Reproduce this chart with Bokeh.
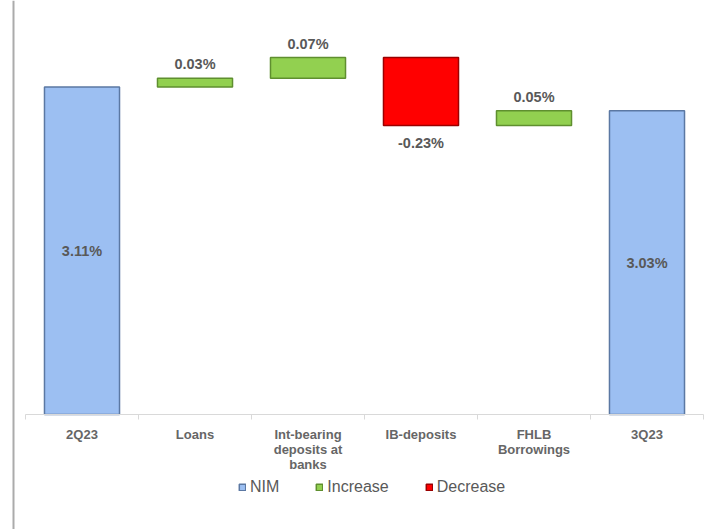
from bokeh.plotting import figure
from bokeh.models import Range1d, LinearAxis, FixedTicker, Span
from bokeh.core.properties import value
from bokeh.embed import file_html
from bokeh.resources import INLINE

# ---------------- data ----------------
categories = ["2Q23", "Loans", "Int-bearing\ndeposits at\nbanks", "IB-deposits",
              "FHLB\nBorrowings", "3Q23"]
values = [3.11, 0.03, 0.07, -0.23, 0.05, 3.03]
kinds = ["total", "change", "change", "change", "change", "total"]
axis_min = 2.0
legend_names = ["NIM", "Increase", "Decrease"]

# ---------------- waterfall geometry from data ----------------
n = len(categories)
bottoms, tops = [], []
running = None
for v, k in zip(values, kinds):
    if k == "total":
        bottoms.append(axis_min)
        tops.append(v)
        running = v
    else:
        start = running
        running = round(running + v, 4)
        bottoms.append(min(start, running))
        tops.append(max(start, running))

groups = {"NIM": [], "Increase": [], "Decrease": []}
for i, (v, k) in enumerate(zip(values, kinds)):
    if k == "total":
        groups["NIM"].append(i)
    elif v >= 0:
        groups["Increase"].append(i)
    else:
        groups["Decrease"].append(i)

# ---------------- layout ----------------
W, H = 706, 529
PX_CAT = 113.0      # pixels per category
LEFT_PX = 25.0      # left edge of first category
BASE_PX = 414.0     # pixel row of the axis baseline
PX_UNIT = 295.0     # pixels per 1 percentage point

x_start = -0.5 - LEFT_PX / PX_CAT
x_end = x_start + W / PX_CAT
y_start = axis_min - (H - BASE_PX) / PX_UNIT
y_end = axis_min + BASE_PX / PX_UNIT

p = figure(width=W, height=H, x_range=Range1d(x_start, x_end),
           y_range=Range1d(y_start, y_end), x_axis_location=None,
           y_axis_location=None, toolbar_location=None, tools="",
           output_backend="svg", min_border=0, outline_line_color=None)
p.grid.visible = False

FONT = value("Liberation Sans")
TXT = "#595959"

styles = {
    "NIM": dict(fill_color="#9CBFF2", line_color="#5B78A3"),
    "Increase": dict(fill_color="#92D050", line_color="#5F8F2F"),
    "Decrease": dict(fill_color="#FF0000", line_color="#9A0000"),
}
BAR_W = 0.664
for name in legend_names:
    idx = groups[name]
    p.vbar(x=idx, width=BAR_W, bottom=[bottoms[i] for i in idx],
           top=[tops[i] for i in idx], line_width=1.5,
           legend_label=name, **styles[name])

# data labels
def fmt(v):
    return f"{v:.2f}%"

idx = groups["NIM"]
p.text(x=idx, y=[(bottoms[i] + tops[i]) / 2 for i in idx],
       text=[fmt(values[i]) for i in idx], text_font=FONT,
       text_font_style="bold", text_font_size="14.5px", text_color=TXT,
       text_align="center", text_baseline="middle")
idx = groups["Increase"]
p.text(x=idx, y=[tops[i] for i in idx], text=[fmt(values[i]) for i in idx],
       text_font=FONT, text_font_style="bold", text_font_size="14.5px",
       text_color=TXT, text_align="center", text_baseline="bottom", y_offset=-6)
idx = groups["Decrease"]
p.text(x=idx, y=[bottoms[i] for i in idx], text=[fmt(values[i]) for i in idx],
       text_font=FONT, text_font_style="bold", text_font_size="14.5px",
       text_color=TXT, text_align="center", text_baseline="top", y_offset=10)

# category axis line and boundary ticks
p.segment(x0=[-0.5], x1=[n - 0.5], y0=[axis_min], y1=[axis_min],
          line_color="#d9d9d9", line_width=1)
bounds = [i - 0.5 for i in range(n + 1)]
p.segment(x0=bounds, x1=bounds, y0=[axis_min] * len(bounds),
          y1=[axis_min - 5 / PX_UNIT] * len(bounds),
          line_color="#d9d9d9", line_width=1)

xa = LinearAxis(fixed_location=axis_min, ticker=FixedTicker(ticks=list(range(n))),
                major_label_overrides={i: c for i, c in enumerate(categories)},
                axis_line_color=None, major_tick_line_color=None,
                minor_tick_line_color=None, major_label_standoff=6,
                major_label_text_font="Liberation Sans",
                major_label_text_font_style="bold",
                major_label_text_font_size="13px",
                major_label_text_line_height=1.0,
                major_label_text_color="#666666")
p.add_layout(xa, "below")

# left border line
p.add_layout(Span(location=x_start + 13 / PX_CAT, dimension="height",
                  line_color="#ababab", line_width=2))

# legend
lg = p.legend[0]
lg.orientation = "horizontal"
lg.location = (238, 33)
lg.glyph_width = 8
lg.glyph_height = 8
lg.label_standoff = 4
lg.spacing = 36
lg.padding = 0
lg.margin = 0
lg.border_line_color = None
lg.background_fill_alpha = 0
lg.label_text_font = "Liberation Sans"
lg.label_text_font_size = "16px"
lg.label_text_color = TXT
lg.label_height = 18

open("out.html", "w").write(file_html(p, INLINE))
